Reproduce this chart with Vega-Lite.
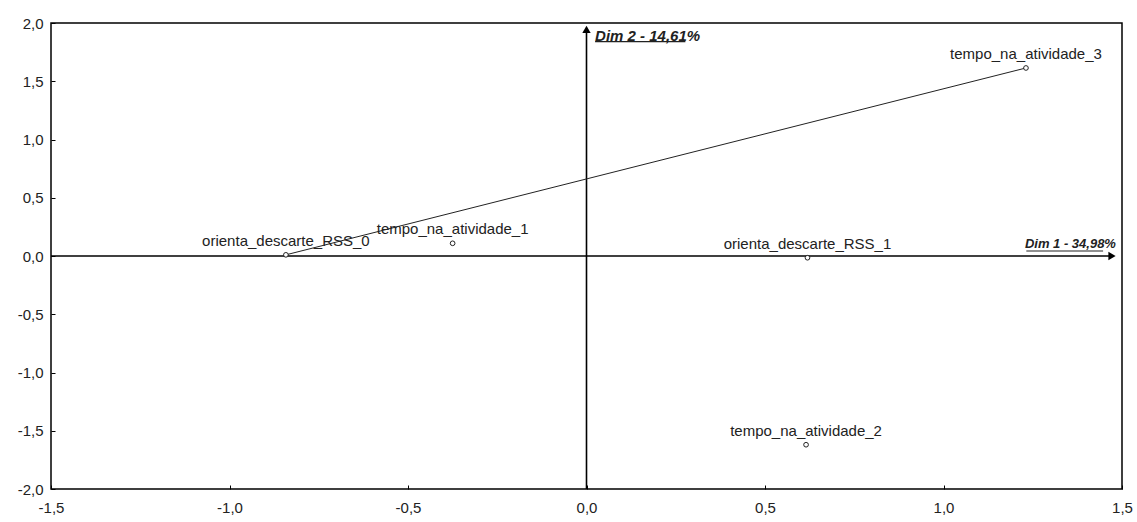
{
  "$schema": "https://vega.github.io/schema/vega-lite/v6.json",
  "width": 1071,
  "height": 466,
  "autosize": "none",
  "padding": {"left": 51, "top": 23, "right": 15, "bottom": 33},
  "background": "white",
  "config": {
    "view": {"stroke": "black", "strokeWidth": 1.5},
    "font": "Liberation Sans",
    "axis": {
      "grid": false,
      "domain": false,
      "labelFont": "Liberation Sans",
      "labelFontSize": 15,
      "labelColor": "#222",
      "tickColor": "black",
      "tickSize": -4,
      "labelFlush": false,
      "labelOverlap": false,
      "title": null
    }
  },
  "datasets": {
    "points": [
      {"label": "orienta_descarte_RSS_0", "x": -0.842, "y": 0.01},
      {"label": "tempo_na_atividade_1", "x": -0.375, "y": 0.109},
      {"label": "orienta_descarte_RSS_1", "x": 0.619, "y": -0.015},
      {"label": "tempo_na_atividade_2", "x": 0.615, "y": -1.62},
      {"label": "tempo_na_atividade_3", "x": 1.231, "y": 1.614}
    ],
    "axes": [
      {"x": -1.5, "y": 0, "x2": 1.475, "y2": 0},
      {"x": 0, "y": -2, "x2": 0, "y2": 1.95}
    ],
    "arrows": [
      {"x": 1.472, "y": 0, "shape": "triangle-right"},
      {"x": 0, "y": 1.945, "shape": "triangle-up"}
    ],
    "link": [
      {"x": -0.842, "y": 0.01, "x2": 1.231, "y2": 1.614}
    ],
    "dims": [
      {"label": "Dim 2 - 14,61%", "dim": 2, "x": 0.024, "y": 1.888, "ux": 0.024, "ux2": 0.277, "uy": 1.84},
      {"label": "Dim 1 - 34,98%", "dim": 1, "x": 1.483, "y": 0.103, "ux": 1.232, "ux2": 1.447, "uy": 0.043}
    ]
  },
  "encoding": {
    "x": {
      "field": "x", "type": "quantitative",
      "scale": {"domain": [-1.5, 1.5], "nice": false, "zero": false},
      "axis": {"values": [-1.5, -1, -0.5, 0, 0.5, 1, 1.5], "labelPadding": 15, "labelExpr": "replace(replace(format(datum.value, '.1f'), '.', ','), '\u2212', '-')"}
    },
    "y": {
      "field": "y", "type": "quantitative",
      "scale": {"domain": [-2, 2], "nice": false, "zero": false},
      "axis": {"values": [-2, -1.5, -1, -0.5, 0, 0.5, 1, 1.5, 2], "labelPadding": 12, "labelExpr": "replace(replace(format(datum.value, '.1f'), '.', ','), '\u2212', '-')"}
    }
  },
  "layer": [
    {
      "data": {"name": "axes"},
      "mark": {"type": "rule", "stroke": "black", "strokeWidth": 1.6},
      "encoding": {"x2": {"field": "x2"}, "y2": {"field": "y2"}}
    },
    {
      "data": {"name": "arrows"},
      "mark": {"type": "point", "filled": true, "color": "black", "size": 70, "opacity": 1},
      "encoding": {"shape": {"field": "shape", "type": "nominal", "scale": null}}
    },
    {
      "data": {"name": "link"},
      "mark": {"type": "rule", "stroke": "#222", "strokeWidth": 1},
      "encoding": {"x2": {"field": "x2"}, "y2": {"field": "y2"}}
    },
    {
      "data": {"name": "points"},
      "mark": {"type": "point", "shape": "circle", "filled": true, "fill": "white", "stroke": "#222", "strokeWidth": 1, "size": 22, "opacity": 1}
    },
    {
      "data": {"name": "points"},
      "mark": {"type": "text", "align": "center", "baseline": "middle", "dy": -14, "font": "Liberation Sans", "fontSize": 15, "color": "#222"},
      "encoding": {"text": {"field": "label"}}
    },
    {
      "data": {"name": "dims"},
      "transform": [{"filter": "datum.dim == 2"}],
      "mark": {"type": "text", "align": "left", "baseline": "middle", "font": "Liberation Sans", "fontSize": 15, "fontStyle": "italic", "fontWeight": "bold", "color": "#222"},
      "encoding": {"text": {"field": "label"}}
    },
    {
      "data": {"name": "dims"},
      "transform": [{"filter": "datum.dim == 1"}],
      "mark": {"type": "text", "align": "right", "baseline": "middle", "font": "Liberation Sans", "fontSize": 13, "fontStyle": "italic", "fontWeight": "bold", "color": "#222"},
      "encoding": {"text": {"field": "label"}}
    },
    {
      "data": {"name": "dims"},
      "mark": {"type": "rule", "stroke": "#222", "strokeWidth": 1.2},
      "encoding": {"x": {"field": "ux", "type": "quantitative"}, "x2": {"field": "ux2"}, "y": {"field": "uy", "type": "quantitative"}}
    }
  ]
}
